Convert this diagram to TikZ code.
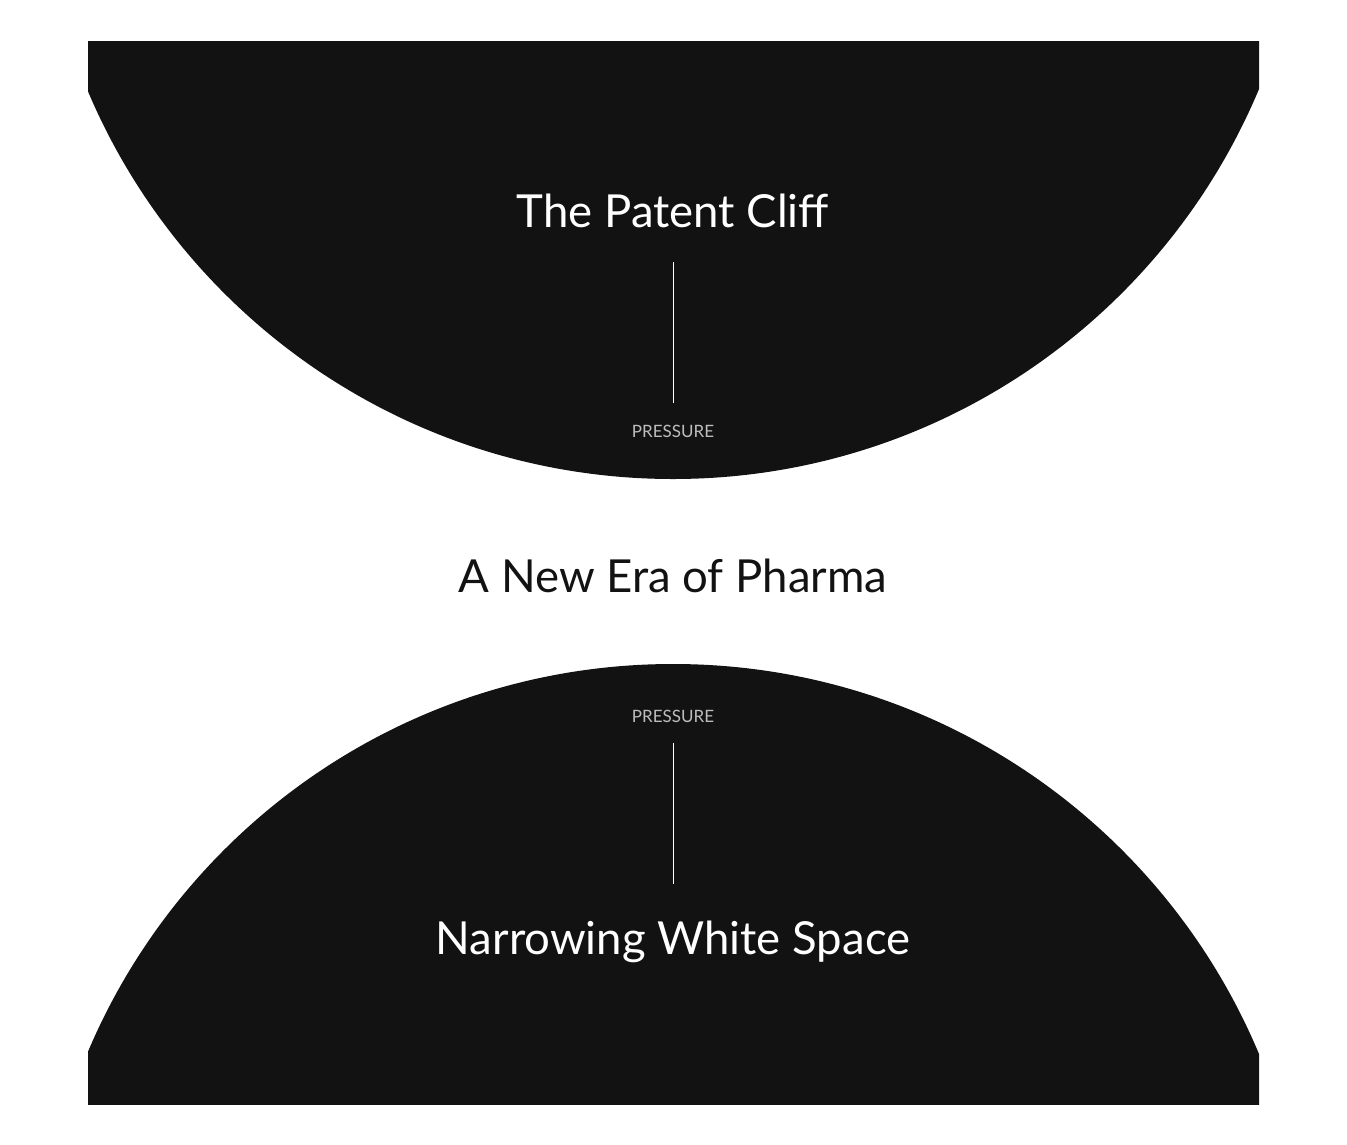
\documentclass[tikz,border=0pt]{standalone}
\usepackage{fontspec}
\setmainfont{Lato}
\usetikzlibrary{positioning}
\definecolor{ink}{HTML}{121212}
\definecolor{faint}{HTML}{BDBDBD}

\begin{document}
\begin{tikzpicture}[
  x=1pt, y=-1pt,
  title/.style={font=\fontsize{45.5}{50}\selectfont,text=white,inner sep=0pt,anchor=base},
  tag/.style={font=\fontsize{17}{20}\selectfont,text=faint,inner sep=0pt,anchor=base},
  stem/.style={draw=white,line width=1pt}]
  \useasboundingbox[fill=white] (0,0) rectangle (1347,1144);
  % upper bowl
  \begin{scope}
    \clip (88,41) rectangle (1259,700);
    \fill[ink] (673,-156) circle[radius=635pt];
  \end{scope}
  % lower dome
  \begin{scope}
    \clip (88,400) rectangle (1259,1104);
    \fill[ink] (673,1299) circle[radius=635pt];
  \end{scope}
  % labels
  \node[title] (cliff) at (673,227) {The Patent Cliff};
  \node[tag]   (ptop)  at (673,437) {PRESSURE};
  \node[title,text=ink] (era) at (673,592) {A New Era of Pharma};
  \node[tag]   (pbot)  at (673,722) {PRESSURE};
  \node[title] (space) at (673,954) {Narrowing White Space};
  % stems
  \coordinate (s1) at (673,262);
  \coordinate (s2) at (673,403);
  \coordinate (s3) at (673,743);
  \coordinate (s4) at (673,884);
  \draw[stem] (s1) -- (s2);
  \draw[stem] (s3) -- (s4);
\end{tikzpicture}
\end{document}
